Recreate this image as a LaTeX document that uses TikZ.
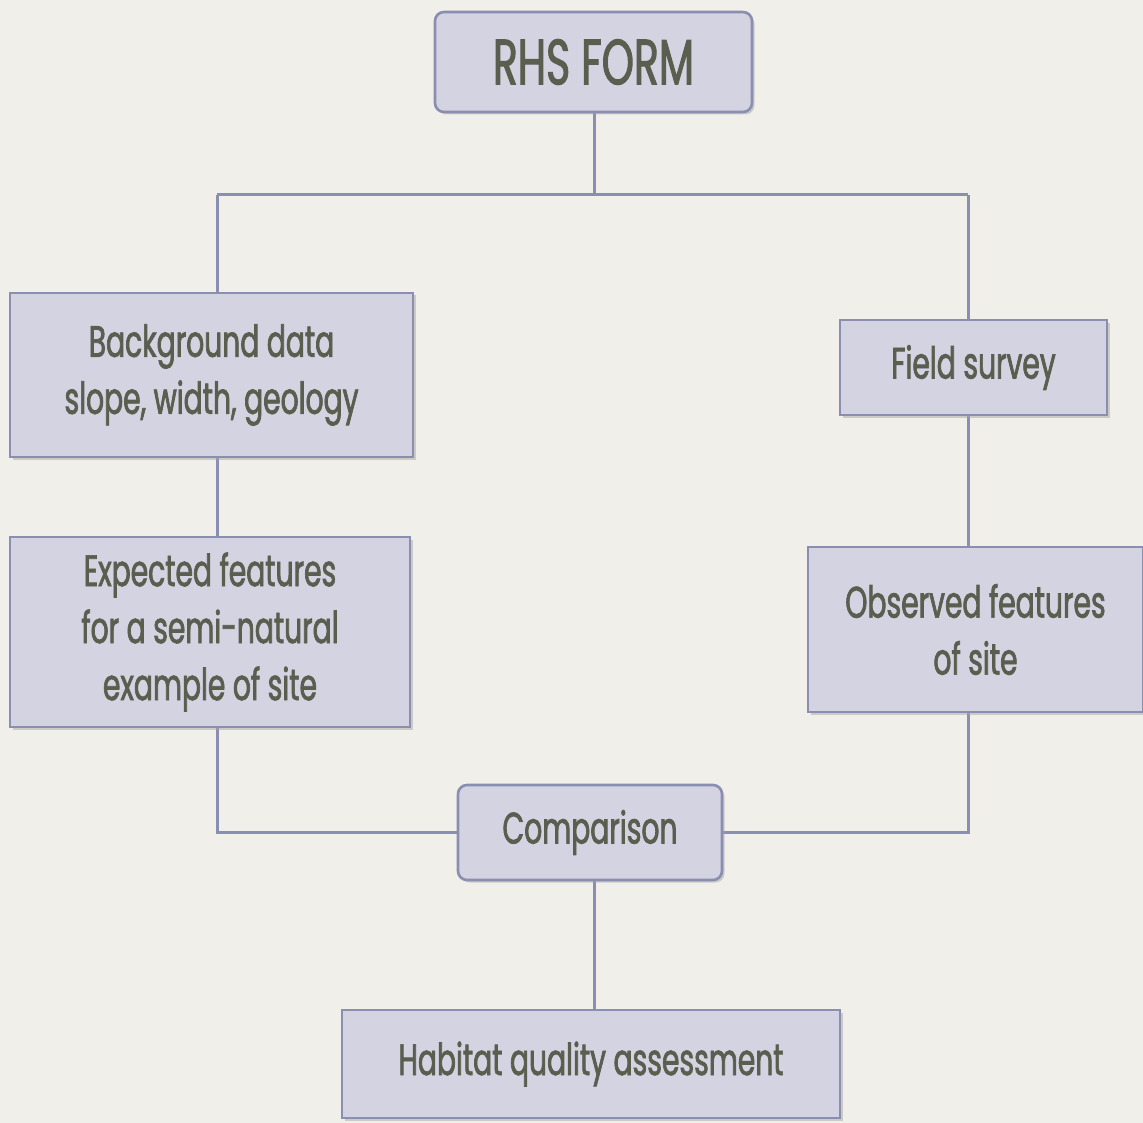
\documentclass[tikz,border=0pt]{standalone}
\usepackage{fontspec}
\setmainfont{Poppins}[FakeStretch=0.64, FakeBold=1.6]
\usetikzlibrary{shadows}
\definecolor{bgc}{HTML}{F1EFE9}
\definecolor{boxfill}{HTML}{D3D3E2}
\definecolor{boxline}{HTML}{8A8EB0}
\definecolor{txt}{HTML}{595E4F}
\tikzset{
  box/.style={draw=boxline, line width=2.6pt, fill=boxfill, text=txt,
    align=center, inner sep=0pt, font=\fontsize{44}{57}\selectfont,
    drop shadow={shadow xshift=2.5pt, shadow yshift=-2.5pt, fill=black!35, opacity=0.5}},
  rbox/.style={box, rounded corners=9pt},
  conn/.style={draw=boxline, line width=3pt}
}
\begin{document}
\begin{tikzpicture}[x=1pt,y=-1pt]
\fill[bgc] (0,0) rectangle (1143,1123);
\useasboundingbox (0,0) rectangle (1143,1123);
% connectors first
\coordinate (jT) at (594,195);
\coordinate (jL) at (217,195);
\coordinate (jR) at (968,195);
\coordinate (cL) at (217,832);
\coordinate (cR) at (968,832);
\path[conn] (594,62) -- (jT);
\path[conn] (jL) -- (jR);
\path[conn] (jL) -- (217,375);
\path[conn] (jR) -- (968,367);
\path[conn] (217,375) -- (217,632);
\path[conn] (968,367) -- (968,630);
\path[conn] (217,632) -- (cL) -- (590,832);
\path[conn] (968,630) -- (cR) -- (590,832);
\path[conn] (594,832) -- (594,1064);
% nodes
\node[rbox, minimum width=317pt, minimum height=100pt, font=\fontsize{64}{64}\selectfont] (rhs) at (593.5,62) {RHS FORM};
\node[box, minimum width=403pt, minimum height=164pt] (bg) at (211.5,375) {Background data\\slope, width, geology};
\node[box, minimum width=267pt, minimum height=95pt] (fs) at (973.5,367.5) {Field survey};
\node[box, minimum width=400pt, minimum height=190pt] (ex) at (210,632) {Expected features\\for a semi-natural\\example of site};
\node[box, minimum width=335pt, minimum height=165pt] (ob) at (975.5,629.5) {Observed features\\of site};
\node[rbox, minimum width=264pt, minimum height=95pt] (cmp) at (590,832.5) {Comparison};
\node[box, minimum width=498pt, minimum height=108pt] (hab) at (591,1064) {Habitat quality assessment};
\end{tikzpicture}
\end{document}
